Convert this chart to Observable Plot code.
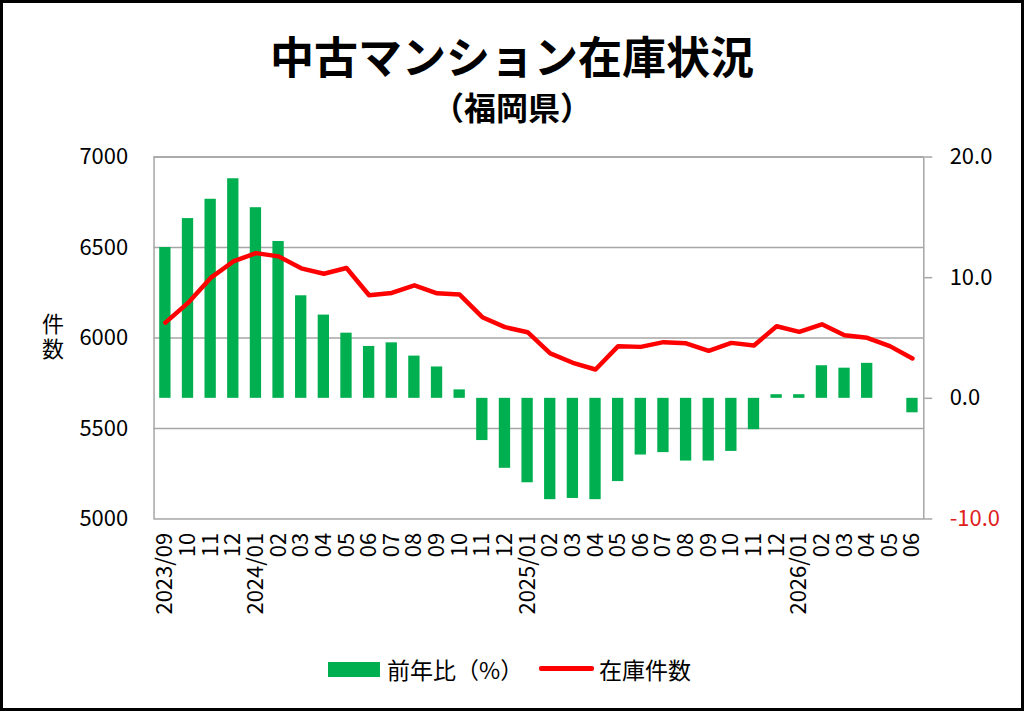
<!DOCTYPE html>
<html><head><meta charset="utf-8">
<script src="https://cdn.jsdelivr.net/npm/d3@7"></script>
<script src="https://cdn.jsdelivr.net/npm/@observablehq/plot@0.6"></script>
<style>
html,body{margin:0;padding:0;background:#fff;}
#wrap{position:relative;width:1024px;height:711px;box-sizing:border-box;border:3px solid #000;background:#fff;overflow:hidden;font-family:"Noto Sans CJK JP","Noto Sans",sans-serif;color:#000;}
#chart{position:absolute;left:-3px;top:-3px;}
.t{position:absolute;left:-3px;width:1024px;text-align:center;font-weight:bold;white-space:nowrap;}
#title{top:26px;font-size:44px;line-height:52px;}
#sub{top:83px;font-size:32px;line-height:40px;}
#ylab{position:absolute;left:35px;top:310px;writing-mode:vertical-rl;text-orientation:upright;font-size:22px;line-height:30px;letter-spacing:3px;}
.lg{position:absolute;font-size:23px;line-height:30px;white-space:nowrap;}
</style></head>
<body>
<div id="wrap">
  <div id="title" class="t">中古マンション在庫状況</div>
  <div id="sub" class="t">（福岡県）</div>
  <div id="ylab">件数</div>
  <div id="chart"></div>
  <div style="position:absolute;left:325px;top:659px;width:52px;height:15px;background:#00B050;"></div>
  <div class="lg" style="left:384px;top:651px;">前年比（%）</div>
  <div style="position:absolute;left:536px;top:663px;width:55px;height:5px;background:#FF0000;border-radius:2px;"></div>
  <div class="lg" style="left:596px;top:651px;">在庫件数</div>
</div>
<script>
const months = ["2023-09","2023-10","2023-11","2023-12","2024-01","2024-02","2024-03","2024-04","2024-05","2024-06","2024-07","2024-08","2024-09","2024-10","2024-11","2024-12","2025-01","2025-02","2025-03","2025-04","2025-05","2025-06","2025-07","2025-08","2025-09","2025-10","2025-11","2025-12","2026-01","2026-02","2026-03","2026-04","2026-05","2026-06"];
const tickLabels = ["2023/09","10","11","12","2024/01","02","03","04","05","06","07","08","09","10","11","12","2025/01","02","03","04","05","06","07","08","09","10","11","12","2026/01","02","03","04","05","06"];
const yoy = [12.5,14.9,16.5,18.2,15.8,13.0,8.5,6.9,5.4,4.3,4.6,3.5,2.6,0.7,-3.5,-5.8,-7.0,-8.4,-8.3,-8.4,-6.9,-4.7,-4.5,-5.2,-5.2,-4.4,-2.6,0.3,0.3,2.7,2.5,2.9,0.0,-1.2];
const inventory = [6085,6194,6332,6423,6469,6451,6385,6355,6387,6236,6249,6291,6247,6240,6115,6060,6032,5915,5863,5826,5955,5951,5977,5971,5929,5973,5959,6065,6034,6076,6015,6001,5955,5887];
const leftTicks = [5000,5500,6000,6500,7000];
const rightTicks = [-10,0,10,20];

const leftDomain = [5000,7000];
const rightDomain = [-10,20];
const toLeft = v => leftDomain[0] + (v - rightDomain[0]) * (leftDomain[1]-leftDomain[0]) / (rightDomain[1]-rightDomain[0]);
const fromLeft = v => rightDomain[0] + (v - leftDomain[0]) * (rightDomain[1]-rightDomain[0]) / (leftDomain[1]-leftDomain[0]);

const rows = months.map((m,i) => ({month:m, yoy:yoy[i], inv:inventory[i]}));
const labelOf = new Map(months.map((m,i)=>[m,tickLabels[i]]));
const gray = "#A6A6A6";

const chart = Plot.plot({
  width:1024, height:650,
  marginTop:157, marginBottom:130, marginLeft:154, marginRight:98,
  style:{fontFamily:'"Noto Sans CJK JP","Noto Sans",sans-serif', fontSize:"22px", color:"#000", background:"transparent"},
  x:{type:"band", domain:months, paddingInner:0.5, paddingOuter:0.25, round:false},
  y:{domain:leftDomain},
  marks:[
    Plot.ruleY(leftTicks.slice(1), {stroke:gray, strokeWidth:1.5}),
    Plot.barY(rows, {x:"month", y1:toLeft(0), y2:d=>toLeft(d.yoy), fill:"#00B050"}),
    Plot.frame({stroke:gray, strokeWidth:1.5}),
    Plot.line(rows, {x:"month", y:"inv", stroke:"#FF0000", strokeWidth:4.5, strokeLinejoin:"round", strokeLinecap:"round"}),
    Plot.axisY({anchor:"left", ticks:leftTicks, tickSize:0, tickPadding:26, label:null, tickFormat:d=>String(d)}),
    Plot.axisY({anchor:"right", ticks:rightTicks.filter(v=>v>=0).map(toLeft), tickSize:8, tickPadding:18, stroke:gray, strokeWidth:1.5, label:null, textAnchor:"start", tickFormat:d=>fromLeft(d).toFixed(1)}),
    Plot.axisY({anchor:"right", ticks:rightTicks.filter(v=>v<0).map(toLeft), tickSize:8, tickPadding:18, stroke:gray, strokeWidth:1.5, fill:"#E0201B", label:null, textAnchor:"start", tickFormat:d=>fromLeft(d).toFixed(1)}),
    Plot.axisX({anchor:"bottom", tickSize:0, tickPadding:14, tickRotate:-90, label:null, tickFormat:d=>labelOf.get(d)})
  ]
});
document.getElementById("chart").appendChild(chart);
</script>
</body></html>
